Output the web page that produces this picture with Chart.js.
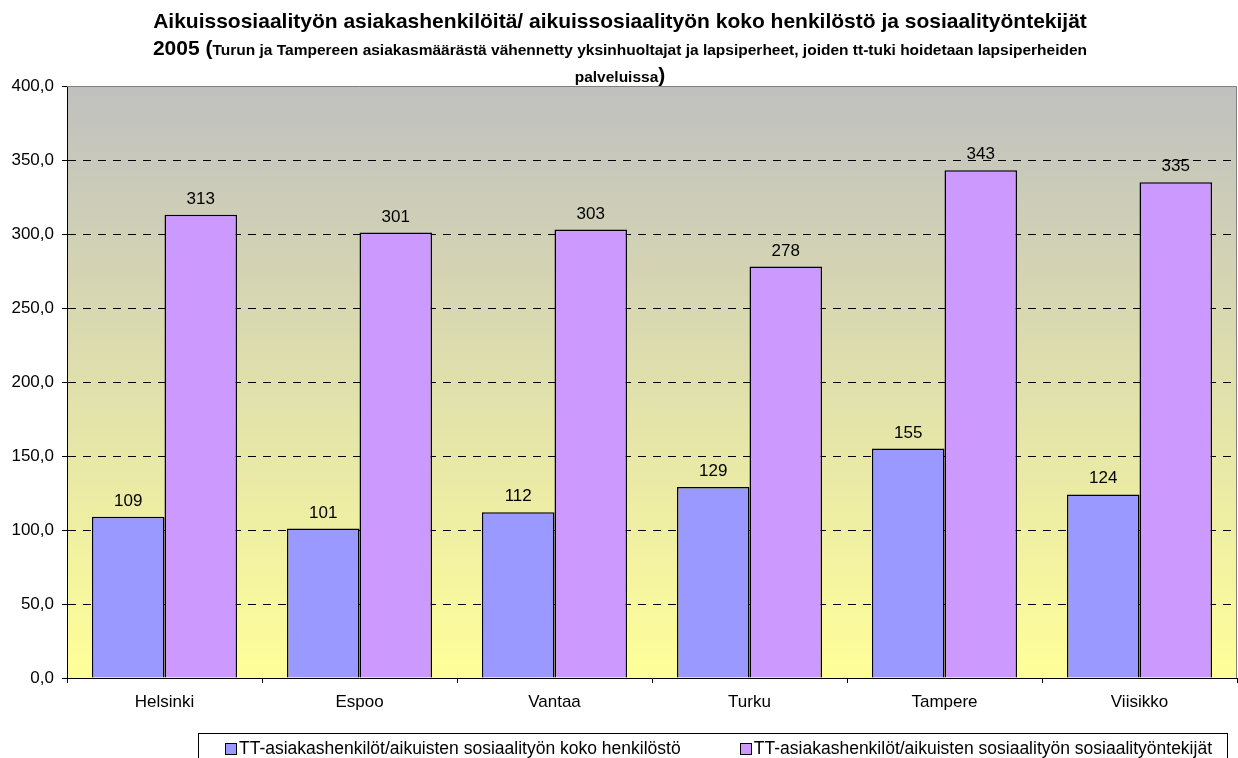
<!DOCTYPE html>
<html>
<head>
<meta charset="utf-8">
<script src="https://cdn.jsdelivr.net/npm/chart.js@4/dist/chart.umd.min.js"></script>
<style>
  body { margin: 0; background: #fff; font-family: "Liberation Sans", Arial, sans-serif; }
  #wrap { position: relative; width: 1238px; height: 758px; overflow: hidden; }
  #chart { position: absolute; left: 0; top: 0; }
  #title { position: absolute; left: 40px; top: 7px; width: 1160px; text-align: center; font-weight: bold; color: #000; }
  #title .big { font-size: 21px; }
  #title .small { font-size: 15.5px; }
  #title div { height: 27px; line-height: 27px; white-space: nowrap; }
  #legend { position: absolute; left: 198px; top: 733px; width: 1030px; height: 40px; border: 1px solid #000; box-sizing: border-box; font-size: 17.5px; }
  .item { position: absolute; top: 4px; display: flex; align-items: center; white-space: nowrap; }
  .swatch { width: 10px; height: 10px; border: 1px solid #000; margin-right: 2px; }
</style>
</head>
<body>
<div id="wrap">
  <canvas id="chart" width="1238" height="758"></canvas>
  <div id="title">
    <div><span class="big">Aikuissosiaalityön asiakashenkilöitä/ aikuissosiaalityön koko henkilöstö ja sosiaalityöntekijät</span></div>
    <div><span class="big">2005 (</span><span class="small">Turun ja Tampereen asiakasmäärästä vähennetty yksinhuoltajat ja lapsiperheet, joiden tt-tuki hoidetaan lapsiperheiden</span></div>
    <div><span class="small">palveluissa</span><span class="big">)</span></div>
  </div>
  <div id="legend"></div>
</div>
<script>
const cities = ["Helsinki", "Espoo", "Vantaa", "Turku", "Tampere", "Viisikko"];
const staffAll = [109, 101, 112, 129, 155, 124];
const socialWorkers = [313, 301, 303, 278, 343, 335];
const seriesLabels = [
  "TT-asiakashenkilöt/aikuisten sosiaalityön koko henkilöstö",
  "TT-asiakashenkilöt/aikuisten sosiaalityön sosiaalityöntekijät",
];
const yTicks = [0, 50, 100, 150, 200, 250, 300, 350, 400];

const palette = {
  blue: "#9999ff",
  purple: "#cc99ff",
  frame: "#808080",
};

const font = "'Liberation Sans', Arial, sans-serif";

const plotBackground = {
  id: "plotBackground",
  beforeDraw(chart) {
    const { ctx, chartArea: a } = chart;
    const g = ctx.createLinearGradient(0, a.top, 0, a.bottom);
    g.addColorStop(0, "#c0c0c0");
    g.addColorStop(1, "#ffff99");
    ctx.save();
    ctx.fillStyle = g;
    ctx.fillRect(a.left, a.top, a.right - a.left, a.bottom - a.top);
    ctx.restore();
  },
  afterDraw(chart) {
    const { ctx, chartArea: a } = chart;
    ctx.save();
    ctx.strokeStyle = palette.frame;
    ctx.lineWidth = 1;
    ctx.beginPath();
    ctx.moveTo(a.left, a.top + 0.5);
    ctx.lineTo(a.right - 0.5, a.top + 0.5);
    ctx.lineTo(a.right - 0.5, a.bottom);
    ctx.stroke();
    ctx.restore();
  },
};

const valueLabels = {
  id: "valueLabels",
  afterDatasetsDraw(chart) {
    const { ctx } = chart;
    ctx.save();
    ctx.font = `17px ${font}`;
    ctx.fillStyle = "#000";
    ctx.textAlign = "center";
    ctx.textBaseline = "alphabetic";
    chart.data.datasets.forEach((ds, i) => {
      chart.getDatasetMeta(i).data.forEach((bar, j) => {
        ctx.fillText(String(ds.data[j]), bar.x, bar.y - 11);
      });
    });
    ctx.restore();
  },
};

const chart = new Chart(document.getElementById("chart"), {
  type: "bar",
  data: {
    labels: cities,
    datasets: [
      {
        label: seriesLabels[0],
        data: staffAll,
        backgroundColor: palette.blue,
        borderColor: "#000",
        borderWidth: 1.5,
      },
      {
        label: seriesLabels[1],
        data: socialWorkers,
        backgroundColor: palette.purple,
        borderColor: "#000",
        borderWidth: 1.5,
      },
    ],
  },
  options: {
    responsive: false,
    animation: false,
    devicePixelRatio: 1,
    layout: { padding: { top: 86, right: 1, bottom: 45, left: 0 } },
    datasets: { bar: { categoryPercentage: 0.744, barPercentage: 1 } },
    plugins: {
      legend: { display: false },
      title: { display: false },
      tooltip: { enabled: false },
    },
    scales: {
      x: {
        afterFit: (s) => { s.height = 35; },
        grid: {
          offset: true,
          drawOnChartArea: false,
          drawTicks: true,
          tickLength: 5,
          tickColor: "#000",
          color: "#000",
        },
        border: { display: true, color: "#000", width: 1 },
        ticks: { color: "#000", font: { family: font, size: 17 }, padding: 9 },
      },
      y: {
        min: 0,
        max: 400,
        afterFit: (s) => { s.width = 67; },
        afterBuildTicks: (s) => { s.ticks = yTicks.map((v) => ({ value: v })); },
        grid: {
          color: (c) => (c.tick && (c.tick.value === 0 || c.tick.value === 400) ? "rgba(0,0,0,0)" : "#000"),
          tickColor: "#000",
          tickLength: 5,
          tickBorderDash: [],
        },
        border: { display: true, color: "#000", width: 1, dash: [8, 7] },
        ticks: {
          color: "#000",
          padding: 8,
          font: { family: font, size: 17 },
          callback: (v) => Number(v).toFixed(1).replace(".", ","),
        },
      },
    },
  },
  plugins: [plotBackground, valueLabels],
});

function renderLegend() {
  const box = document.getElementById("legend");
  chart.data.datasets.forEach((ds, i) => {
    const node = document.createElement("div");
    node.className = "item";
    if (i === 0) {
      node.style.left = "26px";
    } else {
      node.style.right = "15px";
    }
    node.innerHTML = `<span class="swatch" style="background:${ds.backgroundColor}"></span><span>${ds.label}</span>`;
    box.appendChild(node);
  });
}

renderLegend();
</script>
</body>
</html>
